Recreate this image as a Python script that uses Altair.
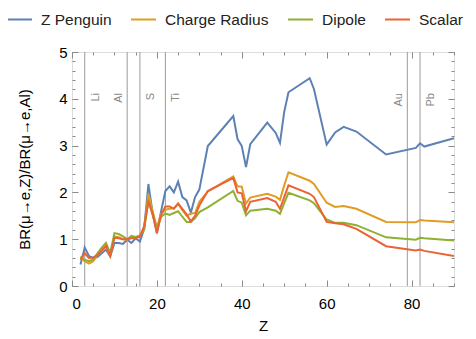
import altair as alt
import pandas as pd

Z = [2, 3, 4, 5, 6, 7, 8, 9, 10, 11, 12, 13, 14, 15, 16, 17, 18, 19, 20, 21, 22, 23, 24, 25, 26, 27, 28, 29, 30,
     32, 38, 39, 40, 41, 42, 46, 48, 49, 50, 51, 56, 57, 60, 62, 64, 67, 74, 81, 82, 83, 90]
z_penguin = [0.46, 0.82, 0.64, 0.60, 0.62, 0.70, 0.78, 0.63, 0.92, 0.92, 0.90, 0.99, 0.92, 1.02, 0.95, 1.22, 2.18,
             1.55, 1.15, 1.60, 2.03, 2.13, 2.00, 2.23, 1.90, 1.83, 1.57, 1.90, 2.06, 2.99, 3.63, 3.14, 2.99, 2.54,
             3.03, 3.49, 3.27, 3.06, 3.72, 4.14, 4.44, 4.21, 3.02, 3.28, 3.40, 3.30, 2.81, 2.95, 3.05, 2.98, 3.16]
charge_radius = [0.60, 0.53, 0.48, 0.53, 0.66, 0.76, 0.85, 0.64, 1.06, 1.04, 1.00, 0.99, 1.04, 1.03, 1.07, 1.25,
                 1.97, 1.60, 1.25, 1.55, 1.63, 1.65, 1.66, 1.76, 1.62, 1.50, 1.55, 1.56, 1.80, 2.02, 2.34, 2.13,
                 2.12, 1.76, 1.89, 1.97, 1.91, 1.84, 2.15, 2.43, 2.25, 2.18, 1.78, 1.69, 1.71, 1.65, 1.37, 1.36,
                 1.41, 1.40, 1.36]
dipole = [0.63, 0.56, 0.53, 0.57, 0.70, 0.82, 0.92, 0.70, 1.13, 1.11, 1.06, 1.00, 1.07, 1.05, 1.08, 1.20, 1.83,
          1.51, 1.22, 1.48, 1.55, 1.52, 1.56, 1.60, 1.48, 1.37, 1.37, 1.45, 1.58, 1.68, 2.03, 1.82, 1.78, 1.51,
          1.61, 1.65, 1.61, 1.54, 1.77, 1.99, 1.83, 1.77, 1.42, 1.35, 1.35, 1.30, 1.04, 0.99, 1.03, 1.02, 0.97]
scalar = [0.56, 0.70, 0.60, 0.61, 0.66, 0.76, 0.86, 0.65, 1.03, 1.02, 1.00, 1.00, 1.02, 1.03, 1.05, 1.28, 1.80,
          1.55, 1.12, 1.52, 1.70, 1.70, 1.65, 1.76, 1.65, 1.53, 1.38, 1.50, 1.72, 2.03, 2.31, 2.00, 1.98, 1.60,
          1.80, 1.88, 1.80, 1.65, 1.90, 2.15, 1.97, 1.90, 1.37, 1.34, 1.32, 1.22, 0.85, 0.76, 0.78, 0.75, 0.64]

series_names = ["Z Penguin", "Charge Radius", "Dipole", "Scalar"]
series_colors = ["#5E81B5", "#E19C24", "#8FB032", "#EB6235"]

element_names = ["Li", "Al", "S", "Ti", "Au", "Pb"]
element_Z = [3, 13, 16, 22, 79, 82]
left_side = ["Al", "Au"]

x_major = [0, 20, 40, 60, 80]
x_minor = list(range(0, 91, 5))
y_major = [0, 1, 2, 3, 4, 5]
y_minor = [i / 5 for i in range(0, 26)]

rows = []
for name, vals in zip(series_names, [z_penguin, charge_radius, dipole, scalar]):
    for z, v in zip(Z, vals):
        rows.append({"Z": z, "value": v, "series": name, "order": series_names.index(name)})
df = pd.DataFrame(rows)
el = pd.DataFrame({"name": element_names, "Z": element_Z})

FONT = "Liberation Sans"
FRAME = "#8a8a8a"
xs = alt.Scale(domain=[0, 90], nice=False, zero=False)
ys = alt.Scale(domain=[0, 5], nice=False, zero=False)

lines = alt.Chart(df).mark_line(strokeWidth=2, clip=True).encode(
    x=alt.X("Z:Q", scale=xs, axis=alt.Axis(
        orient="bottom", title="Z", values=x_major, ticks=False, domain=False, grid=False,
        labelFontSize=15, labelPadding=10, labelColor="#000", labelFont=FONT,
        titleFontSize=15, titleFont=FONT, titleFontWeight="normal", titleColor="#000",
        titleY=44, titleBaseline="alphabetic")),
    y=alt.Y("value:Q", scale=ys, axis=alt.Axis(
        orient="left", title="BR(μ→e,Z)/BR(μ→e,Al)", values=y_major, ticks=False, domain=False, grid=False,
        labelFontSize=15, labelPadding=5, labelColor="#000", labelFont=FONT,
        titleFontSize=15, titleFont=FONT, titleFontWeight="normal", titleColor="#000",
        titleX=-43, titleY=117, titleBaseline="alphabetic", titleAngle=270)),
    color=alt.Color("series:N", scale=alt.Scale(domain=series_names, range=series_colors),
                    legend=alt.Legend(title=None, orient="none", direction="horizontal",
                                      legendX=-66, legendY=-46, symbolType="stroke", symbolSize=625,
                                      symbolStrokeWidth=2, labelFontSize=15.5, labelFont=FONT,
                                      labelColor="#222", labelOffset=8, columnPadding=15, padding=0)),
    order=alt.Order("order:Q"),
)

rules = alt.Chart(el).mark_rule(color="#9a9a9a", strokeWidth=1).encode(
    x=alt.X("Z:Q", scale=xs, axis=None)
)

lab_right = alt.Chart(el).transform_filter(
    "indexof(['Al','Au'], datum.name) < 0"
).mark_text(angle=270, align="right", baseline="top", dy=5, fontSize=11, font=FONT, color="#888").encode(
    x=alt.X("Z:Q", scale=xs, axis=None), y=alt.value(41), text="name:N"
)
lab_left = alt.Chart(el).transform_filter(
    alt.FieldOneOfPredicate(field="name", oneOf=left_side)
).mark_text(angle=270, align="right", baseline="alphabetic", dy=-5, fontSize=11, font=FONT, color="#888").encode(
    x=alt.X("Z:Q", scale=xs, axis=None), y=alt.value(41), text="name:N"
)


def tick_layer(xorient, yorient, xvals, yvals, size):
    return alt.Chart(df).mark_point(opacity=0).encode(
        x=alt.X("Z:Q", scale=xs, axis=alt.Axis(
            orient=xorient, values=xvals, offset=-size, tickSize=size, labels=False, domain=False,
            grid=False, title=None, tickColor=FRAME, tickWidth=1)),
        y=alt.Y("value:Q", scale=ys, axis=alt.Axis(
            orient=yorient, values=yvals, offset=-size, tickSize=size, labels=False, domain=False,
            grid=False, title=None, tickColor=FRAME, tickWidth=1)),
    )


t1 = tick_layer("bottom", "left", x_major, y_major, 6)
t2 = tick_layer("bottom", "left", x_minor, y_minor, 3)
t3 = tick_layer("top", "right", x_major, y_major, 6)
t4 = tick_layer("top", "right", x_minor, y_minor, 3)

chart = alt.layer(rules, lab_right, lab_left, lines, t1, t2, t3, t4).resolve_axis(
    x="independent", y="independent"
).properties(
    width=382, height=234,
    autosize=alt.AutoSizeParams(type="none"),
    padding={"left": 64, "top": 44, "right": 14, "bottom": 50},
).configure_view(stroke=FRAME, strokeWidth=1).configure(background="white")

chart.save("out.html", embed_options={"renderer": "svg", "actions": False})
